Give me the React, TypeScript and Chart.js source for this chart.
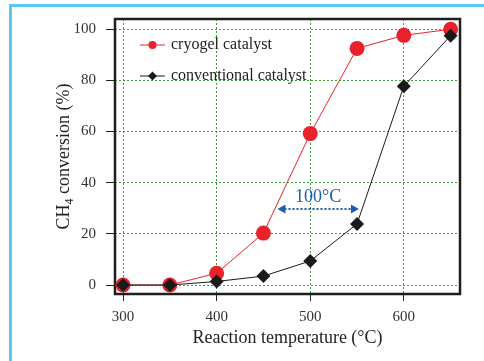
import React, { useEffect, useRef } from 'react';
import { Chart, registerables } from 'chart.js';

Chart.register(...registerables);

const temperatures = [300, 350, 400, 450, 500, 550, 600, 650];
const cryogel = [0, 0, 4.6, 20.3, 59.2, 92.5, 97.6, 100];
const conventional = [0, 0, 1.4, 3.5, 9.4, 23.9, 77.7, 97.5];
const xTicks = [300, 400, 500, 600];
const yTicks = [0, 20, 40, 60, 80, 100];
const seriesLabels = ['cryogel catalyst', 'conventional catalyst'];
const xTitle = 'Reaction temperature (°C)';
const yTitleParts = ['CH', '4', ' conversion (%)'];
const gapLabel = '100°C';
const gapFrom = 465;
const gapTo = 552;
const gapY = 29.7;

const RED = '#e8222b';
const BLACK = '#1a1a1a';
const BLUE = '#1b5fae';
const GREEN = '#3a9c3a';
const SERIF = '"Liberation Serif", "Times New Roman", serif';

const decor = {
  id: 'decor',
  beforeDatasetsDraw(chart: any) {
    const { ctx, chartArea: a } = chart;
    ctx.save();
    ctx.strokeStyle = '#1e1e1e';
    ctx.lineWidth = 2.5;
    ctx.strokeRect(a.left, a.top, a.right - a.left, a.bottom - a.top);
    ctx.restore();
  },
  afterDraw(chart: any) {
    const { ctx, chartArea: a } = chart;
    const xs = chart.scales.x;
    const ys = chart.scales.y;
    ctx.save();
    // annotation arrow
    const x1 = xs.getPixelForValue(gapFrom);
    const x2 = xs.getPixelForValue(gapTo);
    const y = ys.getPixelForValue(gapY);
    ctx.strokeStyle = BLUE;
    ctx.fillStyle = BLUE;
    ctx.lineWidth = 2;
    ctx.setLineDash([2, 2]);
    ctx.beginPath();
    ctx.moveTo(x1 + 7, y);
    ctx.lineTo(x2 - 7, y);
    ctx.stroke();
    ctx.setLineDash([]);
    ctx.beginPath();
    ctx.moveTo(x1, y);
    ctx.lineTo(x1 + 8, y - 4.5);
    ctx.lineTo(x1 + 8, y + 4.5);
    ctx.closePath();
    ctx.fill();
    ctx.beginPath();
    ctx.moveTo(x2, y);
    ctx.lineTo(x2 - 8, y - 4.5);
    ctx.lineTo(x2 - 8, y + 4.5);
    ctx.closePath();
    ctx.fill();
    ctx.font = `18px ${SERIF}`;
    ctx.textAlign = 'center';
    ctx.textBaseline = 'alphabetic';
    ctx.fillText(gapLabel, (x1 + x2) / 2, y - 7.5);

    // legend
    const rows = [
      { y: 45, color: RED, shape: 'circle', label: seriesLabels[0] },
      { y: 76, color: BLACK, shape: 'diamond', label: seriesLabels[1] },
    ];
    rows.forEach((r) => {
      ctx.strokeStyle = r.color;
      ctx.fillStyle = r.color;
      ctx.lineWidth = 1;
      ctx.beginPath();
      ctx.moveTo(140, r.y);
      ctx.lineTo(165, r.y);
      ctx.stroke();
      ctx.beginPath();
      if (r.shape === 'circle') {
        ctx.arc(152.5, r.y, 4, 0, Math.PI * 2);
      } else {
        ctx.moveTo(152.5, r.y - 4.5);
        ctx.lineTo(157, r.y);
        ctx.lineTo(152.5, r.y + 4.5);
        ctx.lineTo(148, r.y);
        ctx.closePath();
      }
      ctx.fill();
      ctx.fillStyle = '#222';
      ctx.font = `16px ${SERIF}`;
      ctx.textAlign = 'left';
      ctx.textBaseline = 'middle';
      ctx.fillText(r.label, 171, r.y);
    });

    // x title
    ctx.fillStyle = '#222';
    ctx.font = `18px ${SERIF}`;
    ctx.textAlign = 'center';
    ctx.textBaseline = 'middle';
    ctx.fillText(xTitle, (a.left + a.right) / 2, 338);

    // y title with subscript
    ctx.translate(64, (a.top + a.bottom) / 2);
    ctx.rotate(-Math.PI / 2);
    const big = `18px ${SERIF}`;
    const small = `12px ${SERIF}`;
    ctx.font = big;
    const w0 = ctx.measureText(yTitleParts[0]).width;
    const w2 = ctx.measureText(yTitleParts[2]).width;
    ctx.font = small;
    const w1 = ctx.measureText(yTitleParts[1]).width;
    let sx = -(w0 + w1 + w2) / 2;
    ctx.textAlign = 'left';
    ctx.textBaseline = 'middle';
    ctx.font = big;
    ctx.fillText(yTitleParts[0], sx, 0);
    sx += w0;
    ctx.font = small;
    ctx.fillText(yTitleParts[1], sx, 6);
    sx += w1;
    ctx.font = big;
    ctx.fillText(yTitleParts[2], sx, 0);
    ctx.restore();
  },
};

export default function App() {
  const ref = useRef<HTMLCanvasElement | null>(null);
  useEffect(() => {
    if (!ref.current) return;
    const chart = new Chart(ref.current, {
      type: 'line',
      data: {
        datasets: [
          {
            label: seriesLabels[0],
            data: temperatures.map((t, i) => ({ x: t, y: cryogel[i] })),
            borderColor: RED,
            backgroundColor: RED,
            borderWidth: 1,
            pointStyle: 'circle',
            pointRadius: 7.5,
            pointBorderWidth: 0,
            pointBackgroundColor: RED,
            tension: 0,
            order: 2,
          },
          {
            label: seriesLabels[1],
            data: temperatures.map((t, i) => ({ x: t, y: conventional[i] })),
            borderColor: BLACK,
            backgroundColor: BLACK,
            borderWidth: 1,
            pointStyle: 'rectRot',
            pointRadius: 7,
            pointBorderWidth: 0,
            pointBackgroundColor: BLACK,
            tension: 0,
            order: 1,
          },
        ],
      },
      options: {
        responsive: false,
        animation: false,
        devicePixelRatio: 1,
        layout: { padding: { top: 19, right: 24, left: 0, bottom: 0 } },
        plugins: { legend: { display: false }, tooltip: { enabled: false } },
        scales: {
          x: {
            type: 'linear',
            min: 291.4,
            max: 660,
            afterBuildTicks: (s: any) => {
              s.ticks = xTicks.map((v) => ({ value: v }));
            },
            afterFit: (s: any) => {
              s.height = 67;
            },
            grid: {
              color: GREEN,
              lineWidth: 1,
              tickColor: '#222',
              tickLength: 7,
              tickWidth: 1,
              tickBorderDash: [],
            },
            border: { display: false, dash: [2, 2] },
            ticks: {
              font: { family: SERIF, size: 15 },
              color: '#333',
              padding: 7,
              maxRotation: 0,
            },
          },
          y: {
            type: 'linear',
            min: -3.5,
            max: 104,
            afterBuildTicks: (s: any) => {
              s.ticks = yTicks.map((v) => ({ value: v }));
            },
            afterFit: (s: any) => {
              s.width = 115;
            },
            grid: {
              color: GREEN,
              lineWidth: 1,
              tickColor: '#222',
              tickLength: 9,
              tickWidth: 1,
              tickBorderDash: [],
            },
            border: { display: false, dash: [2, 2] },
            ticks: {
              font: { family: SERIF, size: 15 },
              color: '#333',
              padding: 10,
            },
          },
        },
      },
      plugins: [decor],
    } as any);
    return () => chart.destroy();
  }, []);

  return (
    <div style={{ position: 'fixed', left: 0, top: 0, width: 484, height: 361, background: '#fff' }}>
      <canvas ref={ref} width={484} height={361} style={{ position: 'absolute', left: 0, top: 0, width: 484, height: 361 }} />
      <div style={{ position: 'absolute', left: 9, top: 4, width: 475, height: 2.5, background: '#5cc8ef' }} />
      <div style={{ position: 'absolute', left: 9, top: 4, width: 2.5, height: 357, background: '#5cc8ef' }} />
    </div>
  );
}
